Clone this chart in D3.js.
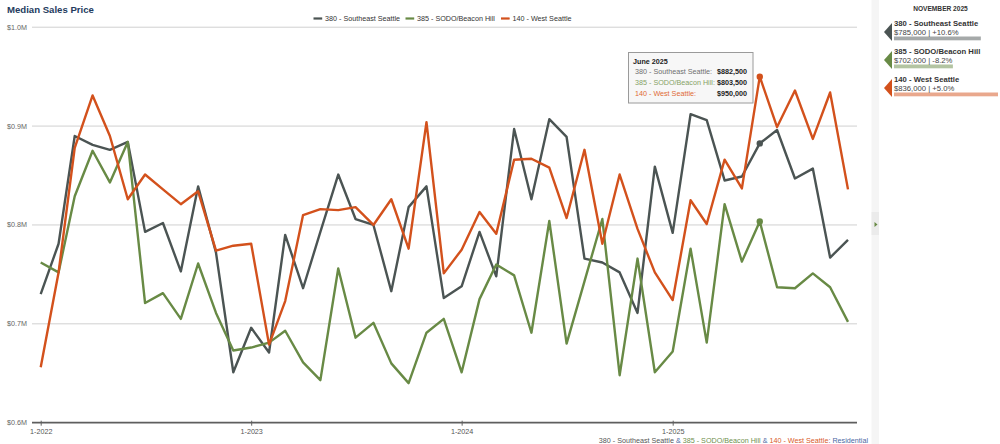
<!DOCTYPE html>
<html><head><meta charset="utf-8">
<script src="https://cdn.jsdelivr.net/npm/d3@7"></script>
<style>
body{margin:0;background:#fff;}
svg{display:block;font-family:"Liberation Sans",Arial,Helvetica,sans-serif;}
</style>
</head><body><svg id="c" width="1000" height="444"></svg>
<script>
// ---------- DATA ----------
const seriesNames = ["380 - Southeast Seattle", "385 - SODO/Beacon Hill", "140 - West Seattle"];
const seriesColors = ["#4b5453", "#688a45", "#d3511c"];
// monthly median sales price (millions), Jan 2022 .. Nov 2025
const southeast = [0.730,0.781,0.890,0.881,0.876,0.884,0.793,0.802,0.753,0.839,0.772,0.651,
  0.696,0.671,0.790,0.736,0.793,0.851,0.806,0.800,0.733,0.818,0.839,0.726,
  0.738,0.793,0.748,0.897,0.826,0.907,0.889,0.766,0.762,0.752,0.711,0.859,
  0.792,0.912,0.906,0.845,0.849,0.8825,0.896,0.847,0.857,0.767,0.785];
const sodo = [0.762,0.752,0.829,0.875,0.843,0.884,0.721,0.731,0.705,0.761,0.711,0.673,
  0.676,0.681,0.693,0.661,0.643,0.756,0.686,0.701,0.660,0.640,0.691,0.705,
  0.651,0.725,0.760,0.749,0.691,0.804,0.680,0.743,0.806,0.648,0.766,0.651,
  0.672,0.776,0.681,0.821,0.763,0.8035,0.737,0.736,0.751,0.737,0.702];
const westSeattle = [0.656,0.752,0.878,0.931,0.890,0.826,0.851,0.836,0.821,0.834,0.774,0.779,
  0.781,0.679,0.723,0.810,0.816,0.815,0.818,0.800,0.826,0.776,0.904,0.751,
  0.775,0.813,0.791,0.866,0.867,0.858,0.807,0.876,0.781,0.851,0.796,0.752,
  0.724,0.825,0.801,0.866,0.837,0.950,0.899,0.936,0.887,0.934,0.836];
const months = d3.range(southeast.length).map(i => new Date(Date.UTC(2022, i, 1)));
const yTicks = [0.6, 0.7, 0.8, 0.9, 1.0];
const yTickLabels = ["$0.6M", "$0.7M", "$0.8M", "$0.9M", "$1.0M"];
const xTickDates = [new Date(Date.UTC(2022,0,1)), new Date(Date.UTC(2023,0,1)), new Date(Date.UTC(2024,0,1)), new Date(Date.UTC(2025,0,1))];
const xTickLabels = ["1-2022", "1-2023", "1-2024", "1-2025"];
const tooltipIndex = 41;
const tooltipTitle = "June 2025";
const tooltipValues = ["$882,500", "$803,500", "$950,000"];
const panelTitle = "NOVEMBER 2025";
const panelValues = ["$785,000", "$702,000", "$836,000"];
const panelChanges = ["+10.6%", "-8.2%", "+5.0%"];
const chartTitle = "Median Sales Price";
const footerParts = [
  ["380 - Southeast Seattle", 0], [" & ", -1], ["385 - SODO/Beacon Hill", 1], [" & ", -1],
  ["140 - West Seattle", 2], [": Residential", -1]];

const allSeries = [southeast, sodo, westSeattle];

// ---------- CHART ----------
const svg = d3.select("#c");
const FONT = 7.2;
const x = d3.scaleUtc().domain([xTickDates[0], xTickDates[3]]).range([40.7, 672.7]);
const y = d3.scaleLinear().domain([0.6, 1.0]).range([422.7, 27.2]);
const plotL = 32, plotR = 857;

// title
svg.append("text").attr("x", 7).attr("y", 12.5).attr("font-size", 9.6).attr("font-weight", "bold")
  .attr("fill", "#243b5e").text(chartTitle);

// gridlines
svg.append("g").selectAll("line").data(yTicks.slice(1)).join("line")
  .attr("x1", plotL).attr("x2", plotR).attr("y1", d => y(d)).attr("y2", d => y(d))
  .attr("stroke", "#d0d0d0").attr("stroke-width", 1);

// y labels
svg.append("g").selectAll("text").data(yTicks).join("text")
  .attr("x", 7).attr("y", d => y(d) + 2.5).attr("font-size", FONT).attr("fill", "#666")
  .text((d, i) => yTickLabels[i]);

// x axis
const xAxis = d3.axisBottom(x).tickValues(xTickDates).tickSize(3).tickPadding(3)
  .tickFormat((d, i) => xTickLabels[i]);
const gx = svg.append("g").attr("transform", `translate(0,${y(0.6)})`).call(xAxis);
gx.select(".domain").remove();
gx.selectAll(".tick line").attr("stroke", "#666").attr("y1", -2).attr("y2", 3);
gx.selectAll(".tick text").attr("font-size", FONT).attr("fill", "#555")
  .attr("font-family", '"Liberation Sans",Arial,sans-serif');
svg.append("line").attr("x1", plotL).attr("x2", plotR).attr("y1", y(0.6)).attr("y2", y(0.6))
  .attr("stroke", "#5e5e5e").attr("stroke-width", 1.8);

// lines
const line = d3.line().x((d, i) => x(months[i])).y(d => y(d));
allSeries.forEach((s, k) => {
  svg.append("path").datum(s).attr("d", line).attr("fill", "none")
    .attr("stroke", seriesColors[k]).attr("stroke-width", 2.4).attr("stroke-linejoin", "round");
});
// hover markers
allSeries.forEach((s, k) => {
  svg.append("circle").attr("cx", x(months[tooltipIndex])).attr("cy", y(s[tooltipIndex]))
    .attr("r", 3.2).attr("fill", seriesColors[k]);
});

// legend
const legendX = [313.5, 405.5, 501];
const lg = svg.append("g");
seriesNames.forEach((n, k) => {
  lg.append("line").attr("x1", legendX[k]).attr("x2", legendX[k] + 8.7).attr("y1", 18.5).attr("y2", 18.5)
    .attr("stroke", seriesColors[k]).attr("stroke-width", 2.2);
  lg.append("text").attr("x", legendX[k] + 11.5).attr("y", 21).attr("font-size", FONT)
    .attr("fill", "#333").text(n);
});

// tooltip
const tt = svg.append("g");
tt.append("rect").attr("x", 628.5).attr("y", 52.5).attr("width", 124.5).attr("height", 50.5)
  .attr("fill", "#f7f7f7").attr("fill-opacity", 0.96).attr("stroke", "#9a9a9a").attr("stroke-width", 1);
tt.append("text").attr("x", 633).attr("y", 64).attr("font-size", FONT).attr("font-weight", "bold")
  .attr("fill", "#222").text(tooltipTitle);
const ttLabelColors = ["#6f6f6f", "#86a266", "#e06a34"];
seriesNames.forEach((n, k) => {
  tt.append("text").attr("x", 635).attr("y", 74.3 + k * 10.6).attr("font-size", FONT)
    .attr("fill", ttLabelColors[k]).text(n + ":");
  tt.append("text").attr("x", 747).attr("y", 74.3 + k * 10.6).attr("font-size", FONT)
    .attr("font-weight", "bold").attr("text-anchor", "end").attr("fill", "#222").text(tooltipValues[k]);
});

// footer
const ft = svg.append("text").attr("x", 868).attr("y", 442.5).attr("font-size", FONT)
  .attr("text-anchor", "end");
const footColors = ["#555", "#6f8f4e", "#d9591f"];
footerParts.forEach(([t, k]) => {
  ft.append("tspan").attr("fill", k < 0 ? "#4a67a3" : footColors[k]).text(t);
});

// side strip
svg.append("rect").attr("x", 871.5).attr("y", 0).attr("width", 7.5).attr("height", 444).attr("fill", "#f5f5f5");
svg.append("rect").attr("x", 871.5).attr("y", 212).attr("width", 7.5).attr("height", 23).attr("fill", "#ebebeb");
svg.append("path").attr("d", "M874.5,222 L877.5,224.5 L874.5,227 Z").attr("fill", "#688a45");

// right panel
const PFONT = 7.7;
svg.append("text").attr("x", 940.5).attr("y", 11.3).attr("font-size", 6.6).attr("font-weight", "bold")
  .attr("text-anchor", "middle").attr("fill", "#333").text(panelTitle);
const barScale = d3.scaleLinear().domain([0.527, 0.836]).range([0, 104]);
const lastVals = allSeries.map(s => s[s.length - 1]);
seriesNames.forEach((n, k) => {
  const top = 20 + k * 28;
  svg.append("path").attr("d", `M884,${top + 12} L892,${top + 3} L892,${top + 21} Z`).attr("fill", seriesColors[k]);
  svg.append("text").attr("x", 894).attr("y", top + 5.5).attr("font-size", PFONT).attr("font-weight", "bold")
    .attr("fill", "#333").text(n);
  svg.append("text").attr("x", 894).attr("y", top + 14.5).attr("font-size", PFONT)
    .attr("fill", "#444").text(panelValues[k] + " | " + panelChanges[k]);
  svg.append("rect").attr("x", 894).attr("y", top + 16.5).attr("width", barScale(lastVals[k]))
    .attr("height", 3.8).attr("fill", seriesColors[k]).attr("fill-opacity", 0.5);
});
</script>
</body></html>
